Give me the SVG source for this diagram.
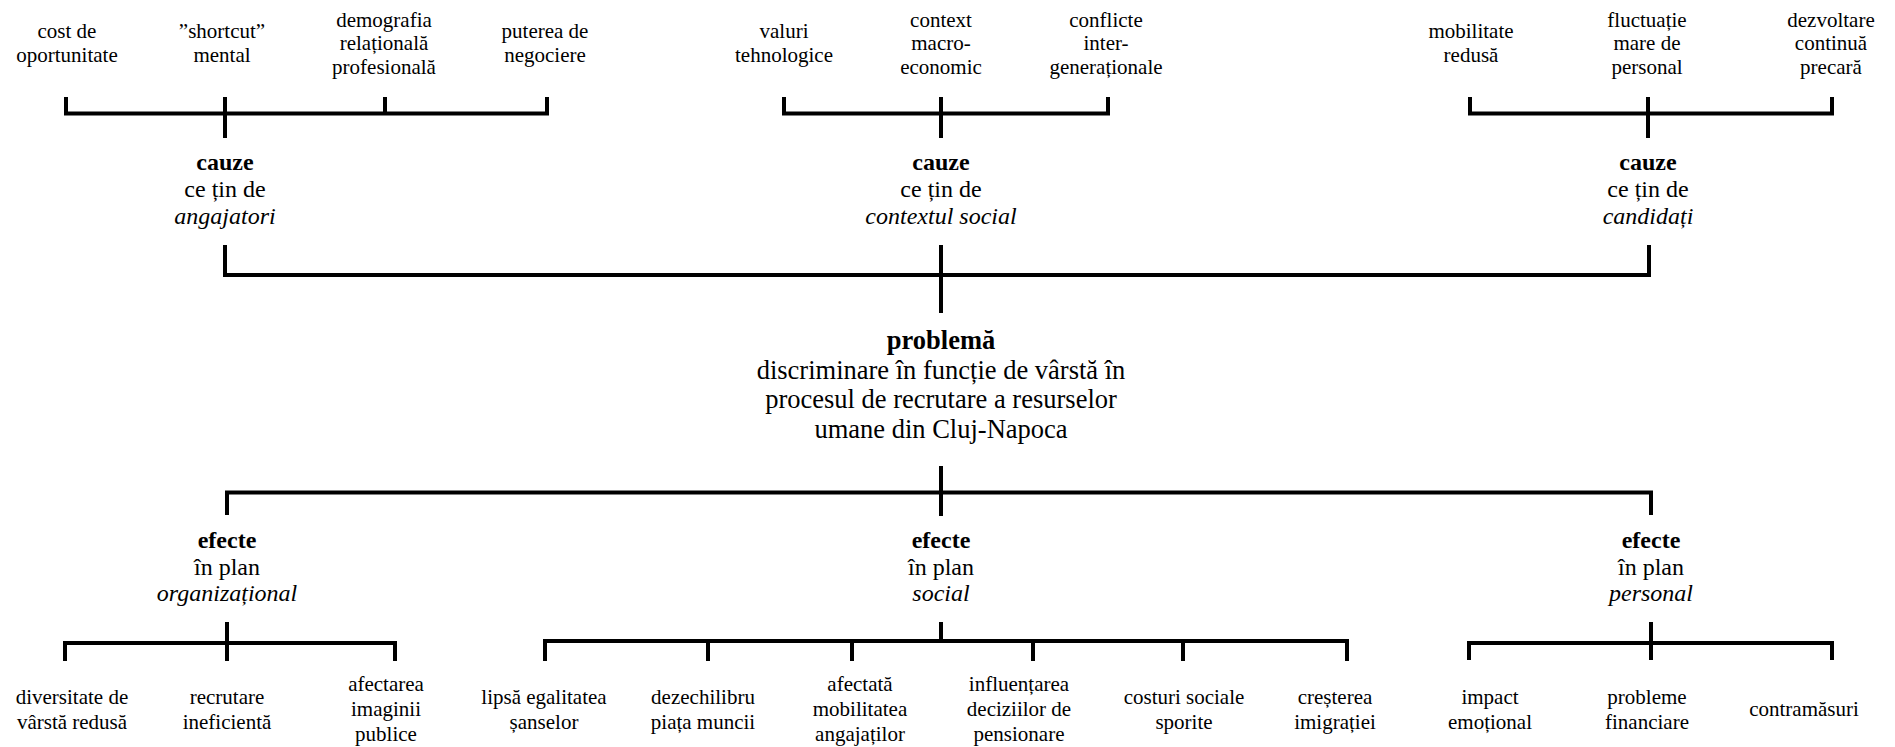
<svg xmlns="http://www.w3.org/2000/svg" width="1895" height="747" viewBox="0 0 1895 747">
<style>
text{font-family:"Liberation Serif","Times New Roman",serif;text-anchor:middle;fill:#000}
.leaf{font-size:21px}
.cat{font-size:24px}
.prob{font-size:26.5px}
.b{font-weight:bold}
.i{font-style:italic}
.conn path{stroke:#000;stroke-width:4;fill:none;stroke-linejoin:miter}
</style>
<rect width="1895" height="747" fill="#fff"/>
<g class="conn" id="connectors">
<path d="M66,97 V113.5 H547 V97 M385,97 V113.5 M225,97 V138"/>
<path d="M784,97 V113.5 H1108 V97 M941,97 V138"/>
<path d="M1470,97 V113.5 H1832 V97 M1648,97 V138"/>
<path d="M225,245 V275 H1649 V245 M941,245 V313"/>
<path d="M941,466 V516 M227,515 V492.5 H1651 V515"/>
<path d="M65,661 V643 H395 V661 M227,622 V661"/>
<path d="M545,661 V641 H1347 V661 M708,641 V661 M852,641 V661 M1033,641 V661 M1183,641 V661 M941,622 V641"/>
<path d="M1469,660 V643 H1832 V660 M1651,622 V660"/>
</g>
<g id="cost" class="leaf"><text><tspan x="67" y="38">cost de</tspan><tspan x="67" y="61.5">oportunitate</tspan></text></g>
<g id="shortcut" class="leaf"><text><tspan x="222" y="38">”shortcut”</tspan><tspan x="222" y="61.5">mental</tspan></text></g>
<g id="demografia" class="leaf"><text><tspan x="384" y="26.5">demografia</tspan><tspan x="384" y="50">relațională</tspan><tspan x="384" y="73.5">profesională</tspan></text></g>
<g id="puterea" class="leaf"><text><tspan x="545" y="38">puterea de</tspan><tspan x="545" y="61.5">negociere</tspan></text></g>
<g id="valuri" class="leaf"><text><tspan x="784" y="38">valuri</tspan><tspan x="784" y="61.5">tehnologice</tspan></text></g>
<g id="context" class="leaf"><text><tspan x="941" y="26.5">context</tspan><tspan x="941" y="50">macro-</tspan><tspan x="941" y="73.5">economic</tspan></text></g>
<g id="conflicte" class="leaf"><text><tspan x="1106" y="26.5">conflicte</tspan><tspan x="1106" y="50">inter-</tspan><tspan x="1106" y="73.5">generaționale</tspan></text></g>
<g id="mobilitate" class="leaf"><text><tspan x="1471" y="38">mobilitate</tspan><tspan x="1471" y="61.5">redusă</tspan></text></g>
<g id="fluctuatie" class="leaf"><text><tspan x="1647" y="26.5">fluctuație</tspan><tspan x="1647" y="50">mare de</tspan><tspan x="1647" y="73.5">personal</tspan></text></g>
<g id="dezvoltare" class="leaf"><text><tspan x="1831" y="26.5">dezvoltare</tspan><tspan x="1831" y="50">continuă</tspan><tspan x="1831" y="73.5">precară</tspan></text></g>
<g id="cauze-angajatori" class="cat"><text><tspan x="225" y="170" class="b">cauze</tspan><tspan x="225" y="197">ce țin de</tspan><tspan x="225" y="224" class="i">angajatori</tspan></text></g>
<g id="cauze-social" class="cat"><text><tspan x="941" y="170" class="b">cauze</tspan><tspan x="941" y="197">ce țin de</tspan><tspan x="941" y="224" class="i">contextul social</tspan></text></g>
<g id="cauze-candidati" class="cat"><text><tspan x="1648" y="170" class="b">cauze</tspan><tspan x="1648" y="197">ce țin de</tspan><tspan x="1648" y="224" class="i">candidați</tspan></text></g>
<g id="problema" class="prob"><text><tspan x="941" y="349" class="b">problemă</tspan><tspan x="941" y="378.5">discriminare în funcție de vârstă în</tspan><tspan x="941" y="408">procesul de recrutare a resurselor</tspan><tspan x="941" y="437.5">umane din Cluj-Napoca</tspan></text></g>
<g id="efecte-org" class="cat"><text><tspan x="227" y="548" class="b">efecte</tspan><tspan x="227" y="574.5">în plan</tspan><tspan x="227" y="601" class="i">organizațional</tspan></text></g>
<g id="efecte-social" class="cat"><text><tspan x="941" y="548" class="b">efecte</tspan><tspan x="941" y="574.5">în plan</tspan><tspan x="941" y="601" class="i">social</tspan></text></g>
<g id="efecte-personal" class="cat"><text><tspan x="1651" y="548" class="b">efecte</tspan><tspan x="1651" y="574.5">în plan</tspan><tspan x="1651" y="601" class="i">personal</tspan></text></g>
<g id="diversitate" class="leaf"><text><tspan x="72" y="704">diversitate de</tspan><tspan x="72" y="729">vârstă redusă</tspan></text></g>
<g id="recrutare" class="leaf"><text><tspan x="227" y="704">recrutare</tspan><tspan x="227" y="729">ineficientă</tspan></text></g>
<g id="afectarea" class="leaf"><text><tspan x="386" y="691">afectarea</tspan><tspan x="386" y="716">imaginii</tspan><tspan x="386" y="741">publice</tspan></text></g>
<g id="lipsa" class="leaf"><text><tspan x="544" y="704">lipsă egalitatea</tspan><tspan x="544" y="729">șanselor</tspan></text></g>
<g id="dezechilibru" class="leaf"><text><tspan x="703" y="704">dezechilibru</tspan><tspan x="703" y="729">piața muncii</tspan></text></g>
<g id="mobilitatea" class="leaf"><text><tspan x="860" y="691">afectată</tspan><tspan x="860" y="716">mobilitatea</tspan><tspan x="860" y="741">angajaților</tspan></text></g>
<g id="influentarea" class="leaf"><text><tspan x="1019" y="691">influențarea</tspan><tspan x="1019" y="716">deciziilor de</tspan><tspan x="1019" y="741">pensionare</tspan></text></g>
<g id="costuri" class="leaf"><text><tspan x="1184" y="704">costuri sociale</tspan><tspan x="1184" y="729">sporite</tspan></text></g>
<g id="imigratie" class="leaf"><text><tspan x="1335" y="704">creșterea</tspan><tspan x="1335" y="729">imigrației</tspan></text></g>
<g id="impact" class="leaf"><text><tspan x="1490" y="704">impact</tspan><tspan x="1490" y="729">emoțional</tspan></text></g>
<g id="financiare" class="leaf"><text><tspan x="1647" y="704">probleme</tspan><tspan x="1647" y="729">financiare</tspan></text></g>
<g id="contramasuri" class="leaf"><text><tspan x="1804" y="716">contramăsuri</tspan></text></g>
</svg>
